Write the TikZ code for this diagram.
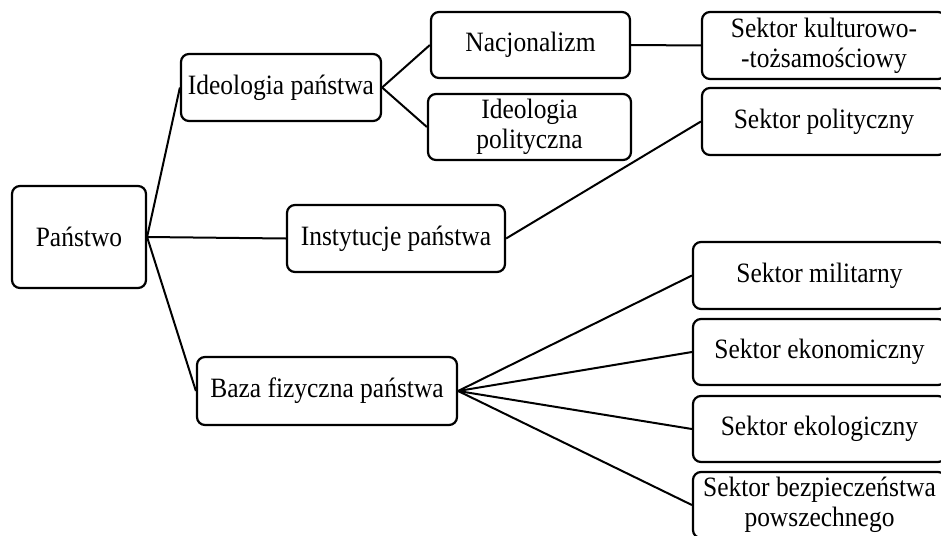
\documentclass[tikz,border=0pt]{standalone}
\usepackage{fontspec}
\setmainfont{Liberation Serif}[FakeStretch=0.91]
\begin{document}
\begin{tikzpicture}[x=1pt,y=-1pt,
  box/.style={draw, line width=2.2pt, rounded corners=8pt, align=center,
    inner sep=0pt, font=\fontsize{28}{30}\selectfont},
  link/.style={line width=2pt}]
\useasboundingbox (0,0) rectangle (941,535);
\clip (0,0) rectangle (941,535);

% left and middle columns
\node[box, minimum width=134pt, minimum height=102pt] (panstwo) at (79,237) {Państwo};
\node[box, minimum width=200pt, minimum height=67pt] (ideo) at (281,87.5) {Ideologia państwa};
\node[box, minimum width=218pt, minimum height=67pt] (inst) at (396,238.5) {Instytucje państwa};
\node[box, minimum width=260pt, minimum height=68pt] (baza) at (327,391) {Baza fizyczna państwa};
\node[box, minimum width=199pt, minimum height=66pt] (nacj) at (530.5,45) {Nacjonalizm};
\node[box, minimum width=203pt, minimum height=66pt] (ideopol) at (529.5,127) {Ideologia\\polityczna};

% sectors (right column)
\node[box, minimum width=244pt, minimum height=67pt] (kult) at (824,45.5) {Sektor kulturowo-\\-tożsamościowy};
\node[box, minimum width=244pt, minimum height=67pt] (polit) at (824,121.5) {Sektor polityczny};
\node[box, minimum width=253pt, minimum height=67pt] (mil) at (819.5,275.5) {Sektor militarny};
\node[box, minimum width=253pt, minimum height=66pt] (ekon) at (819.5,352) {Sektor ekonomiczny};
\node[box, minimum width=253pt, minimum height=66pt] (ekol) at (819.5,429) {Sektor ekologiczny};
\node[box, minimum width=253pt, minimum height=66pt] (bezp) at (819.5,505) {Sektor bezpieczeństwa\\powszechnego};

% connectors
\draw[link] (panstwo.east) -- (ideo.west);
\draw[link] (panstwo.east) -- (inst.west);
\draw[link] (panstwo.east) -- (baza.west);
\draw[link] (ideo.east) -- (nacj.west);
\draw[link] (ideo.east) -- (ideopol.west);
\draw[link] (nacj.east) -- (kult.west);
\draw[link] (inst.east) -- (polit.west);
\draw[link] (baza.east) -- (mil.west);
\draw[link] (baza.east) -- (ekon.west);
\draw[link] (baza.east) -- (ekol.west);
\draw[link] (baza.east) -- (bezp.west);
\end{tikzpicture}
\end{document}
